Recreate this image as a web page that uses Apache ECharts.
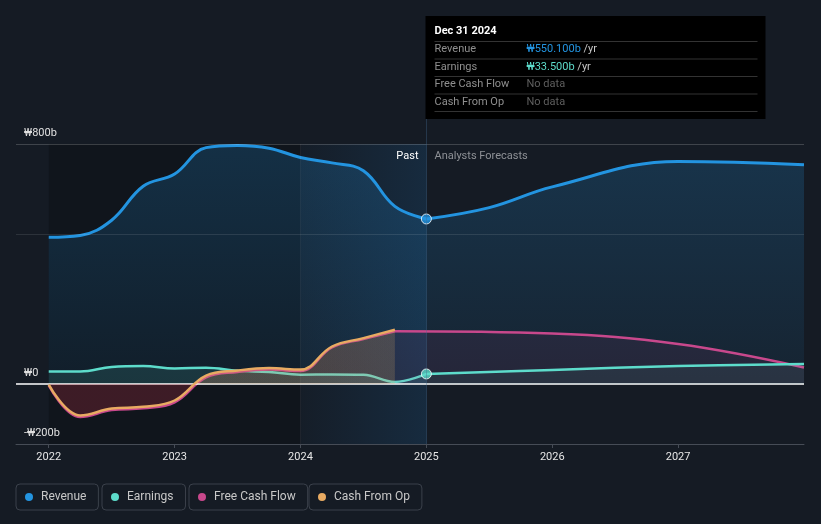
<!DOCTYPE html>
<html>
<head>
<meta charset="utf-8">
<style>
  html, body { margin: 0; padding: 0; background: #151b24; }
  #chart { width: 821px; height: 524px; }
</style>
<script src="https://cdn.jsdelivr.net/npm/echarts@6/dist/echarts.min.js"></script>
</head>
<body>
<div id="chart"></div>
<script>
// ---------- data (values in ₩ billions, x in decimal years) ----------
const pastQuarters = [2022.0, 2022.25, 2022.5, 2022.75, 2023.0, 2023.25, 2023.5, 2023.75, 2024.0, 2024.25, 2024.5, 2024.75, 2025.0];
const revenuePast  = [489, 495, 546, 659, 700, 788, 795, 786, 755, 737, 711, 592, 550.1];
const earningsPast = [42, 42, 57, 60, 52, 54, 44, 40, 31, 32, 31, 7, 33.5];

const cashQuarters   = [2022.0, 2022.25, 2022.5, 2022.75, 2023.0, 2023.25, 2023.5, 2023.75, 2024.0, 2024.25, 2024.5, 2024.75];
const cashFromOpPast = [-2, -105, -82, -76, -55, 28, 45, 53, 48, 125, 153, 181];
const freeCashPast   = [-5, -110, -87, -81, -61, 22, 40, 48, 43, 122, 150, 176];

const revenueForecastYears = [2025, 2025.5, 2026, 2027, 2028];
const revenueForecast      = [550.1, 588, 657, 742, 731];
const forecastYears    = [2025, 2026, 2027, 2028];
const earningsForecast = [33.5, 47, 60, 67];
const fcfForecastYears = [2024.75, 2026, 2027, 2028];
const fcfForecast      = [176, 168, 133, 55];

const yearTicks = [2022, 2023, 2024, 2025, 2026, 2027];
const yLabelValues = [-200, 0, 800];
const gridLineValues = [800, 500];
const seriesNames = ['Revenue', 'Earnings', 'Free Cash Flow', 'Cash From Op'];
const tooltipDate = 'Dec 31 2024';
const highlightStart = 2024;

// ---------- style ----------
const FONT = 'Roboto, "Noto Sans", sans-serif';
const C_REV = '#2394e0', C_EARN = '#5ddccb', C_FCF = '#c8488c', C_CFO = '#e8ab62';
const GRID = { left: 16, right: 17, top: 144, bottom: 80 };
const X_MIN = 2021.74, X_MAX = 2028, Y_MIN = -200, Y_MAX = 800;
const gridH = 524 - GRID.top - GRID.bottom;
const zeroFrac = (Y_MAX - 0) / (Y_MAX - Y_MIN);
const SMOOTH = 0.4;

const zip = (xs, ys) => xs.map((x, i) => [x, ys[i]]);
const signGrad = (above, below) => new echarts.graphic.LinearGradient(0, GRID.top, 0, GRID.top + gridH, [
  { offset: 0, color: above }, { offset: zeroFrac, color: above },
  { offset: zeroFrac, color: below }, { offset: 1, color: below }
], true);
const revGrad = new echarts.graphic.LinearGradient(0, GRID.top, 0, GRID.top + gridH * zeroFrac, [
  { offset: 0, color: 'rgba(35,148,224,0.30)' }, { offset: 1, color: 'rgba(35,148,224,0.10)' }
], true);
const fmtY = v => v === 0 ? '₩0' : (v < 0 ? '-₩' + (-v) + 'b' : '₩' + v + 'b');

const lastX = pastQuarters[pastQuarters.length - 1];
const lastRev = revenuePast[revenuePast.length - 1];
const lastEarn = earningsPast[earningsPast.length - 1];

const chart = echarts.init(document.getElementById('chart'), null, { renderer: 'canvas' });

const lineBase = (name, color, width, z) => ({
  type: 'line', name, smooth: SMOOTH, symbol: 'none', showSymbol: false,
  lineStyle: { color, width }, itemStyle: { color }, z, silent: true
});

const option = {
  backgroundColor: '#151b24',
  animation: false,
  textStyle: { fontFamily: FONT },
  grid: GRID,
  xAxis: {
    type: 'value', min: X_MIN, max: X_MAX, z: 10,
    splitLine: { show: false },
    axisLine: { show: true, onZero: false, lineStyle: { color: '#464c56', width: 1 } },
    axisTick: { show: true, customValues: yearTicks, length: 4, lineStyle: { color: '#464c56' } },
    axisLabel: { customValues: yearTicks, formatter: v => String(Math.round(v)), color: '#e6e6e6', fontSize: 11, fontFamily: FONT, margin: 8 }
  },
  yAxis: {
    type: 'value', min: Y_MIN, max: Y_MAX, z: 10,
    splitLine: { show: false }, axisLine: { show: false }, axisTick: { show: false },
    axisLabel: { customValues: yLabelValues, inside: true, formatter: fmtY, color: '#e0e0e0', fontSize: 11, fontFamily: FONT, verticalAlign: 'bottom', margin: 8, padding: [0, 0, 5, 0] }
  },
  legend: seriesNames.map((n, i) => ({
    data: [n], left: [16, 102, 189, 309][i], top: 484, icon: 'circle',
    itemWidth: 14, itemHeight: 8, padding: [7, 12, 7, 9],
    borderColor: '#3b414b', borderWidth: 1, borderRadius: 4,
    selectedMode: false,
    textStyle: { color: '#c8c8c8', fontSize: 12, fontFamily: FONT }
  })),
  series: [
    {
      type: 'line', name: 'bands', data: [], z: 1, silent: true,
      markArea: {
        silent: true,
        data: [
          [{ xAxis: pastQuarters[0], itemStyle: { color: 'rgba(0,0,0,0.2)' } }, { xAxis: highlightStart }],
          [{ xAxis: highlightStart, itemStyle: { color: new echarts.graphic.LinearGradient(0, 0, 1, 0, [
            { offset: 0, color: 'rgba(33,150,243,0.02)' }, { offset: 1, color: 'rgba(33,150,243,0.13)' }]) } }, { xAxis: lastX }]
        ]
      },
      markLine: {
        silent: true, symbol: 'none', label: { show: false },
        data: gridLineValues.map((v, i) => ({ yAxis: v, lineStyle: { color: i === 0 ? 'rgba(255,255,255,0.18)' : 'rgba(255,255,255,0.1)', width: 1, type: 'solid' } }))
          .concat([{ xAxis: highlightStart, lineStyle: { color: 'rgba(255,255,255,0.05)', width: 1, type: 'solid' } }])
      }
    },
    Object.assign(lineBase('Revenue', C_REV, 3, 2), { data: zip(pastQuarters, revenuePast), areaStyle: { color: revGrad } }),
    Object.assign(lineBase('Revenue', C_REV, 3, 2), { data: zip(revenueForecastYears, revenueForecast), areaStyle: { color: revGrad } }),
    Object.assign(lineBase('Earnings', C_EARN, 2.5, 3), { data: zip(pastQuarters, earningsPast), areaStyle: { color: 'rgba(94,222,205,0.18)' } }),
    Object.assign(lineBase('Free Cash Flow', C_FCF, 2.5, 4), { data: zip(cashQuarters, freeCashPast), areaStyle: { color: signGrad('rgba(200,72,140,0.10)', 'rgba(200,72,140,0.0)') } }),
    Object.assign(lineBase('Free Cash Flow', C_FCF, 2.5, 4), { data: zip(fcfForecastYears, fcfForecast), areaStyle: { color: 'rgba(200,72,140,0.12)' } }),
    Object.assign(lineBase('Earnings', C_EARN, 2.5, 5), { data: zip(forecastYears, earningsForecast), areaStyle: { color: 'rgba(94,222,205,0.10)' } }),
    Object.assign(lineBase('Cash From Op', C_CFO, 2.5, 6), { data: zip(cashQuarters, cashFromOpPast), areaStyle: { color: signGrad('rgba(232,171,98,0.28)', 'rgba(185,45,65,0.38)') } }),
    {
      type: 'line', name: 'zero', data: [], z: 7, silent: true,
      markLine: { silent: true, symbol: 'none', label: { show: false },
        data: [{ yAxis: 0, lineStyle: { color: '#ffffff', width: 1.5, type: 'solid' } }] }
    },
    {
      type: 'scatter', name: 'points', z: 8, silent: true, symbol: 'circle', symbolSize: 10,
      data: [
        { value: [lastX, lastRev], itemStyle: { color: C_REV, borderColor: '#ffffff', borderWidth: 1 } },
        { value: [lastX, lastEarn], itemStyle: { color: C_EARN, borderColor: '#ffffff', borderWidth: 1 } }
      ]
    }
  ]
};
chart.setOption(option);

// ---------- tooltip-like annotation at the latest reported point ----------
const pNow = chart.convertToPixel({ gridIndex: 0 }, [lastX, Y_MAX]);
const pBottom = chart.convertToPixel({ gridIndex: 0 }, [lastX, Y_MIN]);
const cx = Math.round(pNow[0]) + 0.5;
const topY = pNow[1];
const boxX = cx - 1, boxY = 16, boxW = 340, boxH = 103;
const rowLabel = ['Revenue', 'Earnings', 'Free Cash Flow', 'Cash From Op'];
const rowVals = [
  { t: '{v|₩' + lastRev.toFixed(3) + 'b} {u|/yr}', c: C_REV },
  { t: '{v|₩' + lastEarn.toFixed(3) + 'b} {u|/yr}', c: C_EARN },
  { t: '{n|No data}', c: null },
  { t: '{n|No data}', c: null }
];
const sepYs = [41, 58.5, 76, 93.5, 111];
const rowYs = [49.5, 67, 84.5, 102];
const g = [];
g.push({ type: 'line', z: 50, silent: true, shape: { x1: cx, y1: boxY + boxH, x2: cx, y2: pBottom[1] }, style: { stroke: 'rgba(70,110,150,0.35)', lineWidth: 1 } });
g.push({ type: 'rect', z: 60, silent: true, shape: { x: boxX, y: boxY, width: boxW, height: boxH }, style: { fill: '#000000' } });
g.push({ type: 'text', z: 61, silent: true, x: boxX + 9, y: 31, style: { text: tooltipDate, fill: '#ffffff', font: 'bold 11px ' + FONT, verticalAlign: 'middle' } });
sepYs.forEach(y => g.push({ type: 'line', z: 61, silent: true, shape: { x1: boxX + 9, y1: y + 0.5, x2: boxX + 332, y2: y + 0.5 }, style: { stroke: '#333333', lineWidth: 1 } }));
rowLabel.forEach((lab, i) => {
  g.push({ type: 'text', z: 61, silent: true, x: boxX + 9, y: rowYs[i], style: { text: lab, fill: '#8f8f8f', font: '11px ' + FONT, verticalAlign: 'middle' } });
  g.push({ type: 'text', z: 61, silent: true, x: boxX + 101, y: rowYs[i], style: {
    text: rowVals[i].t, verticalAlign: 'middle', font: '11px ' + FONT,
    rich: {
      v: { fill: rowVals[i].c || '#fff', fontSize: 11, fontFamily: FONT },
      u: { fill: '#c8c8c8', fontSize: 11, fontFamily: FONT },
      n: { fill: '#5f5f5f', fontSize: 11, fontFamily: FONT }
    } } });
});
g.push({ type: 'text', z: 61, silent: true, x: cx - 8, y: topY + 12, style: { text: 'Past', fill: '#ffffff', font: '11px ' + FONT, align: 'right', verticalAlign: 'middle' } });
g.push({ type: 'text', z: 61, silent: true, x: cx + 8, y: topY + 12, style: { text: 'Analysts Forecasts', fill: '#8e9196', font: '11px ' + FONT, align: 'left', verticalAlign: 'middle' } });
chart.setOption({ graphic: g });
</script>
</body>
</html>
